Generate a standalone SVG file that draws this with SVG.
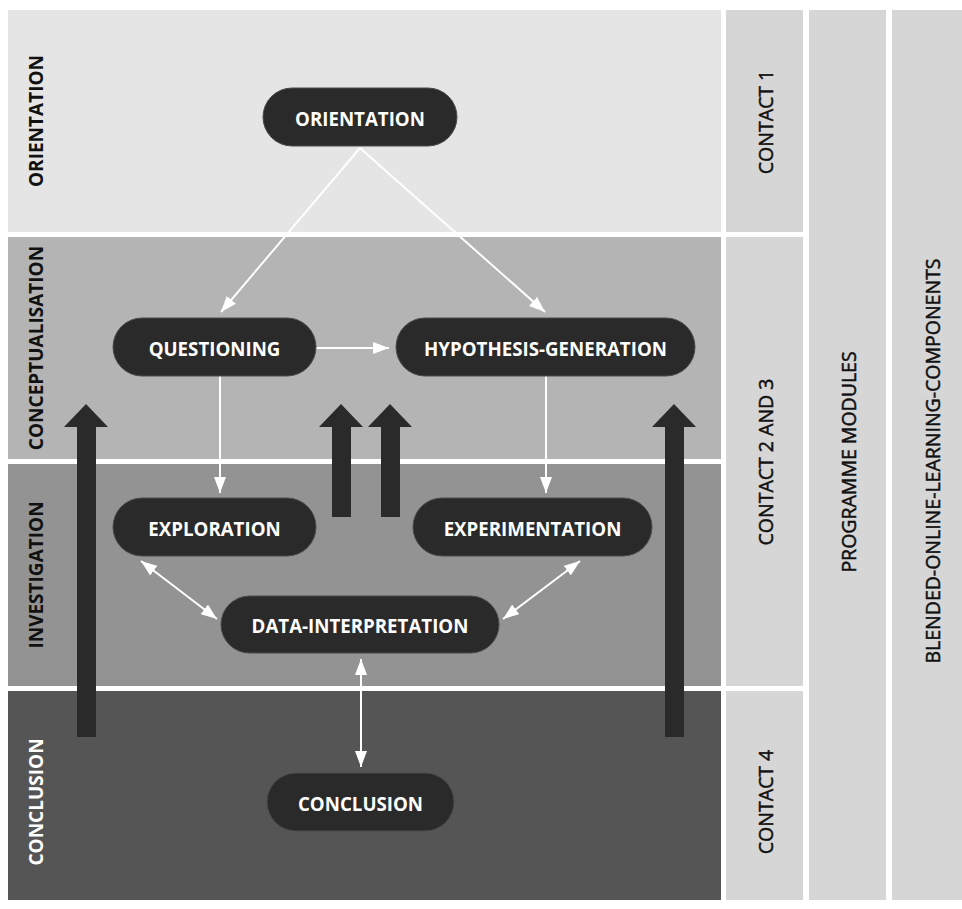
<svg xmlns="http://www.w3.org/2000/svg" width="962" height="909" viewBox="0 0 962 909">
<style>
.node rect{fill:#2a2a2a;stroke:#4a4a4a;stroke-width:1}
.node text{fill:#ffffff;font-family:"Open Sans","Liberation Sans",sans-serif;font-weight:bold;font-size:18.7px;text-anchor:middle;dominant-baseline:central}
.lbl{font-family:"Open Sans","Liberation Sans",sans-serif;font-weight:bold;font-size:19px;text-anchor:middle;dominant-baseline:central;fill:#111}
.col{font-family:"Open Sans","Liberation Sans",sans-serif;font-weight:normal;font-size:19.5px;text-anchor:middle;dominant-baseline:central;fill:#111;stroke:#111;stroke-width:0.5}
.conn line{stroke:#ffffff;stroke-width:2;fill:none}
.big{fill:#2a2a2a}
</style>
<defs>
<marker id="ah" viewBox="0 0 16 12" refX="16" refY="6" markerWidth="16" markerHeight="12" markerUnits="userSpaceOnUse" orient="auto-start-reverse">
<path d="M0,0 L16,6 L0,12 z" fill="#ffffff"/>
</marker>
</defs>
<rect x="0" y="0" width="962" height="909" fill="#ffffff"/>
<g id="bands">
<rect x="8" y="10" width="713" height="222" fill="#e5e5e5"/>
<rect x="8" y="237" width="713" height="222" fill="#b4b4b4"/>
<rect x="8" y="464" width="713" height="222" fill="#939393"/>
<rect x="8" y="691" width="713" height="209" fill="#555555"/>
<rect x="726" y="10" width="77" height="222" fill="#d6d6d6"/>
<rect x="726" y="237" width="77" height="449" fill="#d6d6d6"/>
<rect x="726" y="691" width="77" height="209" fill="#d6d6d6"/>
<rect x="809" y="10" width="77" height="890" fill="#d6d6d6"/>
<rect x="892" y="10" width="70" height="890" fill="#d6d6d6"/>
</g>
<g id="band-labels">
<text class="lbl" transform="translate(36,121) rotate(-90)">ORIENTATION</text>
<text class="lbl" transform="translate(36,348) rotate(-90)">CONCEPTUALISATION</text>
<text class="lbl" transform="translate(36,575) rotate(-90)">INVESTIGATION</text>
<text class="lbl" transform="translate(36,802) rotate(-90)" style="fill:#ffffff">CONCLUSION</text>
<text class="col" transform="translate(765,122) rotate(-90)">CONTACT 1</text>
<text class="col" transform="translate(765,462) rotate(-90)">CONTACT 2 AND 3</text>
<text class="col" transform="translate(765,802) rotate(-90)">CONTACT 4</text>
<text class="col" transform="translate(848,462) rotate(-90)">PROGRAMME MODULES</text>
<text class="col" transform="translate(932,461) rotate(-90)">BLENDED-ONLINE-LEARNING-COMPONENTS</text>
</g>
<g id="big-arrows">
<path class="big" d="M77,737 L77,427 L64,427 L86,404 L108,427 L96,427 L96,737 z"/>
<path class="big" d="M332,517 L332,427 L319,427 L341,404 L363,427 L351,427 L351,517 z"/>
<path class="big" d="M381,517 L381,427 L368,427 L390,404 L412,427 L400,427 L400,517 z"/>
<path class="big" d="M665,737 L665,427 L652,427 L674,404 L696,427 L684,427 L684,737 z"/>
</g>
<g class="conn" id="connectors">
<line x1="360" y1="148" x2="221" y2="312" marker-end="url(#ah)"/>
<line x1="360" y1="148" x2="545" y2="312" marker-end="url(#ah)"/>
<line x1="316" y1="348" x2="389" y2="348" marker-end="url(#ah)"/>
<line x1="220" y1="376" x2="220" y2="493" marker-end="url(#ah)"/>
<line x1="546" y1="376" x2="546" y2="493" marker-end="url(#ah)"/>
<line x1="141" y1="561" x2="217" y2="619" marker-start="url(#ah)" marker-end="url(#ah)"/>
<line x1="503" y1="619" x2="580" y2="561" marker-start="url(#ah)" marker-end="url(#ah)"/>
<line x1="361" y1="659" x2="361" y2="767" marker-start="url(#ah)" marker-end="url(#ah)"/>
</g>
<g class="node" id="n-orientation"><rect x="263" y="88" width="194" height="58" rx="29"/><text x="360" y="118">ORIENTATION</text></g>
<g class="node" id="n-questioning"><rect x="113" y="318" width="203" height="58" rx="29"/><text x="214.5" y="348">QUESTIONING</text></g>
<g class="node" id="n-hypothesis"><rect x="396" y="318" width="299" height="58" rx="29"/><text x="545.5" y="348">HYPOTHESIS-GENERATION</text></g>
<g class="node" id="n-exploration"><rect x="113" y="498" width="203" height="58" rx="29"/><text x="214.5" y="528">EXPLORATION</text></g>
<g class="node" id="n-experimentation"><rect x="413" y="498" width="239" height="58" rx="29"/><text x="532.5" y="528">EXPERIMENTATION</text></g>
<g class="node" id="n-data"><rect x="221" y="596" width="278" height="57" rx="28.5"/><text x="360" y="625">DATA-INTERPRETATION</text></g>
<g class="node" id="n-conclusion"><rect x="267" y="773" width="187" height="58" rx="29"/><text x="360.5" y="803">CONCLUSION</text></g>
</svg>
